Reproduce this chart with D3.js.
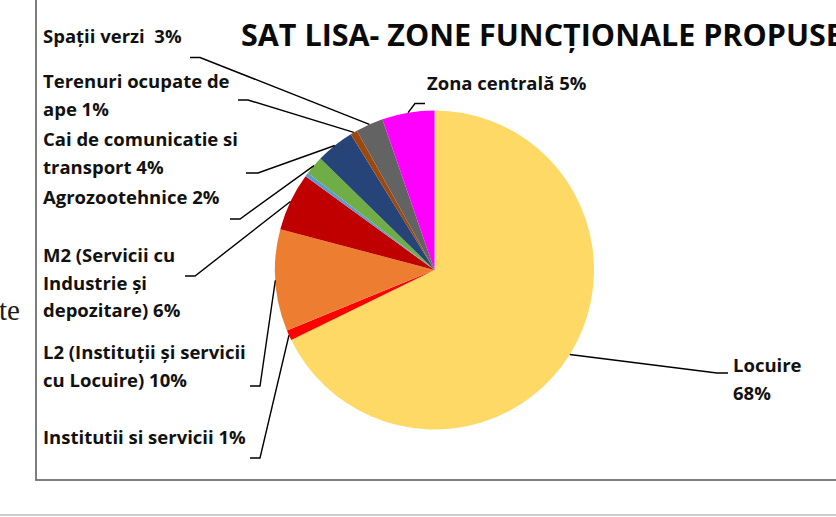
<!DOCTYPE html>
<html>
<head>
<meta charset="utf-8">
<script src="https://cdn.jsdelivr.net/npm/d3@7"></script>
<style>
  html, body { margin: 0; padding: 0; background: #fff; overflow: hidden; }
  svg { display: block; }
  .lbl { font-family: "Open Sans", "Noto Sans", sans-serif; font-weight: 700; font-size: 18.5px; fill: #111; white-space: pre; }
</style>
</head>
<body>
<div id="chart"></div>
<script>
// date (procente)
const zones = ["Locuire", "Institutii si servicii", "L2 (Instituții și servicii cu Locuire)",
  "M2 (Servicii cu Industrie și depozitare)", "Altele", "Agrozootehnice",
  "Cai de comunicatie si transport", "Terenuri ocupate de ape", "Spații verzi", "Zona centrală"];
const shares = [67.8, 1.05, 10.3, 5.9, 0.4, 1.9, 3.9, 0.7, 2.8, 5.3];
const labelText = [
  ["Locuire", "68%"],
  ["Institutii si servicii 1%"],
  ["L2 (Instituții și servicii", "cu Locuire) 10%"],
  ["M2 (Servicii cu", "Industrie și", "depozitare) 6%"],
  null,
  ["Agrozootehnice 2%"],
  ["Cai de comunicatie si", "transport 4%"],
  ["Terenuri ocupate de", "ape 1%"],
  ["Spații verzi  3%"],
  ["Zona centrală 5%"]
];
const colors = ["#FFD966", "#FF0000", "#ED7D31", "#C00000", "#5B9BD5", "#70AD47",
  "#264478", "#9E480E", "#636363", "#FF00FF"];

// pozitii etichete: x, prima linie de baza, cotul liniei (kx) si capatul (ex) la inaltimea ly
const labelPos = [
  { x: 733, y: 372, kx: 717, ex: 728, ly: 373 },
  { x: 43, y: 444, kx: 260, ex: 250, ly: 458 },
  { x: 43, y: 359, kx: 260, ex: 250, ly: 386 },
  { x: 43, y: 262, kx: 195, ex: 185, ly: 276 },
  null,
  { x: 43, y: 204, kx: 240, ex: 230, ly: 219 },
  { x: 43, y: 146, kx: 258, ex: 246, ly: 173 },
  { x: 43, y: 88, kx: 248, ex: 238, ly: 100 },
  { x: 43, y: 43, kx: 200, ex: 190, ly: 57.5 },
  { x: 427, y: 90, kx: 415, ex: 425, ly: 103.5 }
];

const width = 836, height = 517;
const cx = 434.5, cy = 270, r = 159.5;

const svg = d3.select("#chart").append("svg")
  .attr("width", width).attr("height", height);

// fundal documentului
svg.append("text")
  .attr("x", -1).attr("y", 320)
  .attr("font-family", "Liberation Serif, serif").attr("font-size", 29)
  .attr("fill", "#1a1a1a").text("te");

svg.append("line")
  .attr("x1", 0).attr("x2", width).attr("y1", 515).attr("y2", 515)
  .attr("stroke", "#bdbdbd").attr("stroke-width", 1.5);

// chenar grafic
svg.append("rect")
  .attr("x", 36).attr("y", -10).attr("width", 900).attr("height", 490)
  .attr("fill", "#fff").attr("stroke", "#707070").attr("stroke-width", 1.8);

svg.append("text")
  .attr("x", 241).attr("y", 46)
  .attr("font-family", "Open Sans, Noto Sans, sans-serif").attr("font-weight", 700)
  .attr("font-size", 30.5).attr("fill", "#0a0a0a")
  .text("SAT LISA- ZONE FUNCȚIONALE PROPUSE");

const pie = d3.pie().sort(null).value(d => d);
const arcs = pie(shares);
const arc = d3.arc().innerRadius(0).outerRadius(r);
const edge = d3.arc().innerRadius(r).outerRadius(r);

const g = svg.append("g").attr("transform", `translate(${cx},${cy})`);
g.selectAll("path.slice")
  .data(arcs)
  .enter().append("path")
  .attr("class", "slice")
  .attr("d", arc)
  .attr("fill", (d, i) => colors[i]);

// linii de legatura
const leaders = svg.append("g");
arcs.forEach((d, i) => {
  const p = labelPos[i];
  if (!p) return;
  const c = edge.centroid(d);
  leaders.append("polyline")
    .attr("points", `${cx + c[0]},${cy + c[1]} ${p.kx},${p.ly} ${p.ex},${p.ly}`)
    .attr("fill", "none").attr("stroke", "#000").attr("stroke-width", 1.4);
});

// etichete
const lineGap = 27.5;
labelText.forEach((lines, i) => {
  if (!lines) return;
  const p = labelPos[i];
  const t = svg.append("text").attr("class", "lbl").attr("x", p.x).attr("y", p.y);
  lines.forEach((s, k) => {
    t.append("tspan").attr("x", p.x).attr("y", p.y + k * lineGap).text(s);
  });
});
</script>
</body>
</html>
